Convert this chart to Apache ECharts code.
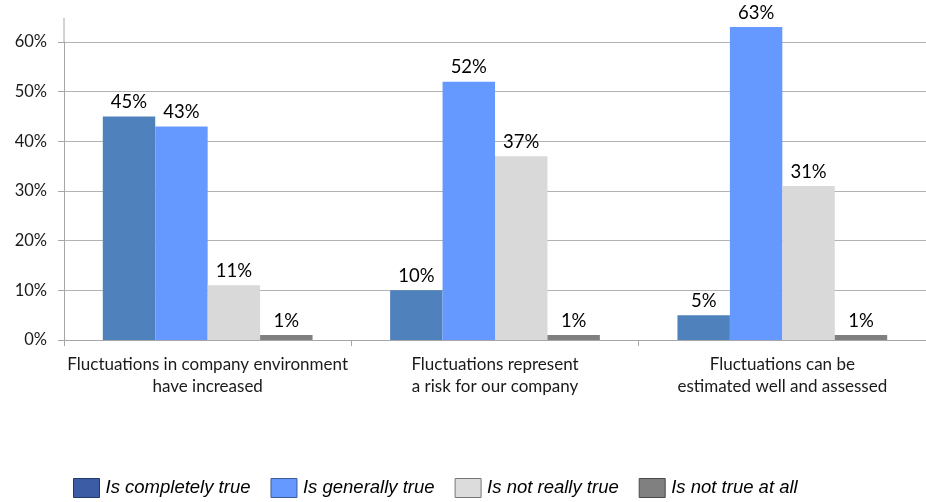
<!DOCTYPE html>
<html><head><meta charset="utf-8">
<script src="https://cdn.jsdelivr.net/npm/echarts@6/dist/echarts.min.js"></script>
<style>html,body{margin:0;padding:0;background:#fff}#c{width:926px;height:502px}</style>
</head><body><div id="c"></div>
<script>
const categories = ['Fluctuations in company environment\nhave increased', 'Fluctuations represent\na risk for our company', 'Fluctuations can be\nestimated well and assessed'];
const seriesNames = ['Is completely true', 'Is generally true', 'Is not really true', 'Is not true at all'];
const completelyTrue = [45, 10, 5];
const generallyTrue = [43, 52, 63];
const notReallyTrue = [11, 37, 31];
const notTrueAtAll = [1, 1, 1];
const yTicks = [0, 10, 20, 30, 40, 50, 60];

const barColors = ['#4F81BD', '#6699FF', '#D9D9D9', '#808080'];
const legendColors = ['#3C5CA6', '#6699FF', '#DCDCDC', '#808080'];
const legendBorders = ['#24386A', '#3D5C99', '#777777', '#4A4A4A'];
const values = [completelyTrue, generallyTrue, notReallyTrue, notTrueAtAll];

const chart = echarts.init(document.getElementById('c'), null, {renderer: 'canvas'});
const font = 'Lato, "Open Sans", sans-serif';
chart.setOption({
  animation: false,
  grid: {left: 64, top: 42, width: 864, bottom: 162, containLabel: false},
  xAxis: {
    type: 'category', data: categories,
    axisLine: {lineStyle: {color: '#A6A6A6', width: 1}},
    axisTick: {show: true, length: 6, alignWithLabel: false, lineStyle: {color: '#A6A6A6'}},
    axisLabel: {margin: 13, fontFamily: font, fontSize: 17, color: '#1a1a1a', lineHeight: 22.5, interval: 0}
  },
  yAxis: {
    type: 'value', min: yTicks[0], max: yTicks[yTicks.length - 1], interval: 10,
    axisLine: {show: true, lineStyle: {color: '#A6A6A6', width: 1}},
    axisTick: {show: true, length: 6, lineStyle: {color: '#A6A6A6'}},
    splitLine: {show: true, lineStyle: {color: '#B3B3B3', width: 1}},
    axisLabel: {margin: 17, fontFamily: font, fontSize: 16.5, color: '#1a1a1a', formatter: v => v + '%'}
  },
  legend: {
    left: 73, top: 478, padding: 0, itemWidth: 26, itemHeight: 19, itemGap: 20,
    icon: 'rect',
    textStyle: {fontFamily: '"Liberation Sans", Arial, sans-serif', fontStyle: 'italic', fontSize: 18.5, color: '#000', padding: [0, 0, 0, 1]},
    data: seriesNames.map((n, i) => ({name: n, itemStyle: {color: legendColors[i], borderColor: legendBorders[i], borderWidth: 1}}))
  },
  graphic: [{type: 'line', shape: {x1: 64, y1: 18, x2: 64, y2: 42}, style: {stroke: '#A6A6A6', lineWidth: 1}, silent: true}],
  series: seriesNames.map((n, i) => ({
    name: n, type: 'bar', data: values[i], clip: false,
    barGap: '0%', barCategoryGap: '27%',
    itemStyle: {color: barColors[i]},
    label: {show: true, position: 'top', distance: 5, formatter: p => p.value + '%', fontFamily: font, fontSize: 18.5, color: '#000'}
  }))
});
</script></body></html>
